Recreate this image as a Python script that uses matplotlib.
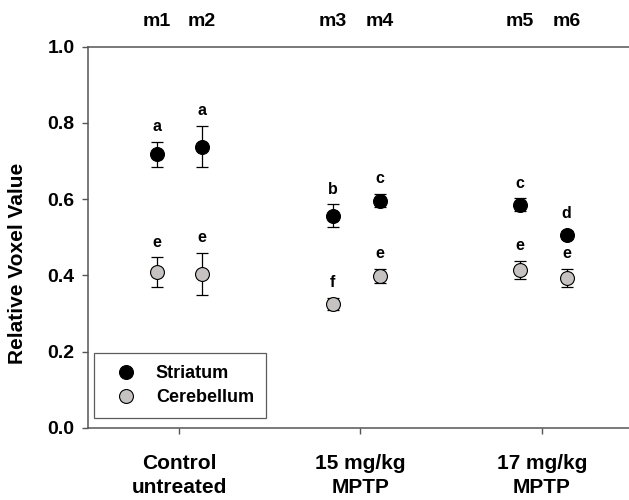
import numpy as np
import matplotlib
matplotlib.use('Agg')
import matplotlib.pyplot as plt

#
# Values
#
groups    = ['Control\nuntreated', '15 mg/kg\nMPTP', '17 mg/kg\nMPTP']
mice      = ['m1', 'm2', 'm3', 'm4', 'm5', 'm6']
xpos      = [0.877, 1.125, 1.846, 2.105, 2.879, 3.136]
striatum  = [0.718, 0.738, 0.556, 0.596, 0.585, 0.506]
str_err   = [0.033, 0.055, 0.030, 0.018, 0.017, 0.010]
cerebel   = [0.408, 0.403, 0.325, 0.399, 0.413, 0.392]
cer_err   = [0.039, 0.056, 0.015, 0.018, 0.024, 0.024]
str_let   = ['a', 'a', 'b', 'c', 'c', 'd']
cer_let   = ['e', 'e', 'f', 'e', 'e', 'e']

plt.rcParams['font.family'] = ['Liberation Sans', 'DejaVu Sans']
plt.rcParams['font.weight'] = 'bold'

fig = plt.figure(figsize=(6.29, 5.0), dpi=100)
ax = fig.add_axes([0.1404, 0.1446, 0.8596, 0.762])

spine_col = '#555555'
gray = '#c6c2c2'

ax.errorbar(xpos, striatum, yerr=str_err, fmt='none', ecolor='k', elinewidth=0.9,
            capsize=4.2, capthick=0.9, zorder=2)
ax.errorbar(xpos, cerebel, yerr=cer_err, fmt='none', ecolor='k', elinewidth=0.9,
            capsize=4.2, capthick=0.9, zorder=2)
ax.plot(xpos, striatum, 'o', ms=10, mfc='k', mec='k', mew=0.8, ls='none',
        label='Striatum', zorder=3)
ax.plot(xpos, cerebel, 'o', ms=10, mfc=gray, mec='k', mew=0.8, ls='none',
        label='Cerebellum', zorder=3)

# significance letters above each error bar
for x, v, e, s in zip(xpos, striatum, str_err, str_let):
    ax.annotate(s, (x, v + max(e, 0.015)), xytext=(0, 11), textcoords='offset points',
                ha='center', va='center', fontsize=11.5, fontweight='bold')
for x, v, e, s in zip(xpos, cerebel, cer_err, cer_let):
    ax.annotate(s, (x, v + max(e, 0.015)), xytext=(0, 11), textcoords='offset points',
                ha='center', va='center', fontsize=11.5, fontweight='bold')

# mouse ids along the top
for x, m in zip(xpos, mice):
    ax.text(x, 1.066, m, ha='center', va='center', fontsize=14, fontweight='bold',
            clip_on=False)

ax.set_xlim(0.5, 3.48)
ax.set_ylim(0, 1.0)
ax.set_xticks([1, 2, 3])
ax.set_xticklabels(groups, fontsize=15, fontweight='bold', linespacing=1.35)
ax.set_yticks([0, 0.2, 0.4, 0.6, 0.8, 1.0])
ax.set_yticklabels(['0.0', '0.2', '0.4', '0.6', '0.8', '1.0'], fontsize=14,
                   fontweight='bold')
ax.tick_params(axis='y', length=4, width=1.0, color=spine_col, pad=6)
ax.tick_params(axis='x', length=4, width=1.0, color=spine_col, pad=15)

ax.set_ylabel('Relative Voxel Value', fontsize=15, fontweight='bold')
ax.yaxis.set_label_coords(-0.113, 0.43)

for side in ['left', 'top', 'bottom']:
    ax.spines[side].set_color(spine_col)
    ax.spines[side].set_linewidth(1.1)
ax.spines['right'].set_visible(False)

leg = ax.legend(loc='lower left', bbox_to_anchor=(0.0105, 0.0255), borderaxespad=0,
                fancybox=False, edgecolor='#333333', prop={'size': 13, 'weight': 'bold'},
                handletextpad=0.58, borderpad=0.65, labelspacing=0.4, handlelength=2.2)
leg.get_frame().set_linewidth(0.9)

fig.savefig('out.png', dpi=100)
